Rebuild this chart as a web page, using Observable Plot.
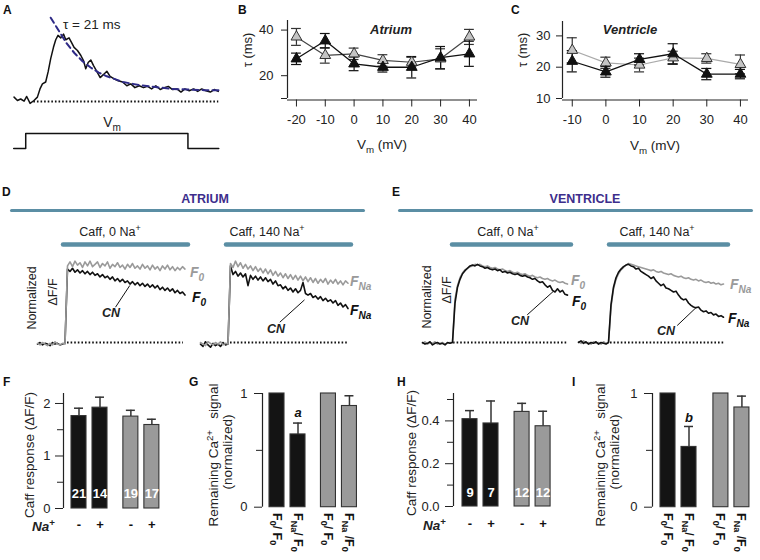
<!DOCTYPE html>
<html><head><meta charset="utf-8">
<script src="https://cdn.jsdelivr.net/npm/d3@7"></script>
<script src="https://cdn.jsdelivr.net/npm/@observablehq/plot@0.6"></script>
<style>
html,body{margin:0;padding:0;background:#fff;}
#root{position:relative;width:760px;height:560px;background:#fff;font-family:"Liberation Sans",Arial,Helvetica,sans-serif;color:#222;overflow:hidden;}
.lbl{position:absolute;white-space:nowrap;line-height:1;}
.lbl sub{font-size:72%;vertical-align:-0.35em;line-height:0;}
.lbl sup{font-size:72%;vertical-align:0.55em;line-height:0;}
.letter{font-weight:bold;font-size:12px;color:#111;}
</style></head>
<body><div id="root"></div>
<script>
// ================= DATA =================
// Panel A: example Ca transient (normalized ΔF/F) vs time (ms)
const aTimeMs = [-7.2,-5.1,-3.1,-1.0,0.6,2.7,5.1,7.2,8.8,10.3,12.3,13.8,15.4,17.1,18.5,19.9,21.6,23.3,24.7,26.7,28.2,29.8,31.9,34,35.6,37,38.5,40.1,41.8,43.8,45.9,48,50,52,54.5,57,59.7,62.3,64.8,67.3,70,72.6,75.1,77.6,80.2,82.9,85.4,87.9,90.5,93.2,95.7,98.1,100.8,103.5,106,108.5,111.1,113.8,116.2,118.7];
const aDeltaF = [0.07,0.016,0.04,0.005,0.08,-0.03,0.016,0.07,0.2,0.28,0.31,0.47,0.68,0.86,0.98,1.05,1.01,1.07,0.98,1.01,0.94,0.86,0.81,0.73,0.65,0.52,0.62,0.66,0.57,0.48,0.38,0.43,0.48,0.40,0.36,0.33,0.31,0.25,0.28,0.22,0.25,0.22,0.24,0.20,0.25,0.19,0.22,0.24,0.19,0.20,0.15,0.20,0.17,0.20,0.16,0.20,0.17,0.15,0.19,0.16];
const aFitTimeMs = [15.4,20,25,30,35,40,45,50,60,70,80,90,100,110,119];
const aFitValue = [1.33,1.14,0.93,0.77,0.64,0.54,0.46,0.40,0.31,0.26,0.23,0.20,0.19,0.18,0.18];
const aBaselineMs = [5,119];
const aVmTimeMs = [-7.4,0,0,100,100,119];
const aVmMv = [-70,-70,0,0,-70,-70];

// Panel B: decay tau (ms) in atrium
const vmAtrium = [-20,-10,0,10,20,30,40];
const tauAtriumGray = [37,28.9,29.6,26.7,25.9,27.4,37];
const tauAtriumGrayErr = [3.7,3.4,2.5,2.5,2.2,4.4,3.3];
const tauAtriumBlack = [27.4,35.3,25.2,23.7,23.7,27.9,29.6];
const tauAtriumBlackErr = [2.5,3.2,3.0,2.1,4.7,4.9,5.5];

// Panel C: decay tau (ms) in ventricle
const vmVentricle = [-10,0,10,20,30,40];
const tauVentGray = [25.4,21.4,20.7,23,22.8,20.9];
const tauVentGrayErr = [4,1.8,2.2,2.1,1.5,3];
const tauVentBlack = [21.9,18.5,22.5,24.3,17.8,17.8];
const tauVentBlackErr = [3.4,1.7,1.8,3.2,1.8,1.5];

// Panels D/E: caffeine responses, normalized ΔF/F, sampled every 0.25 s
const sampleStep = 0.25;
const dTraceStart = -2.8;
const eTraceStart = -3.0;
const dAtrium0NaGray = [-0.01,-0.03,0.00,-0.02,-0.04,-0.01,-0.03,0.01,-0.02,-0.03,-0.01,-0.02,
  0.97,1.02,0.96,1.03,0.98,1.01,0.95,1.02,0.97,1.03,0.96,0.99,1.02,0.95,1.00,0.97,1.02,0.94,0.99,0.96,1.01,0.95,0.98,0.93,0.99,0.95,1.00,0.94,0.97,0.93,0.99,0.94,0.97,0.92,0.98,0.93,0.96,0.91,0.97,0.93,0.98,0.92,0.96,0.91,0.95,0.92,0.96,0.93];
const dAtrium0NaBlack = [-0.02,0.00,-0.03,-0.01,-0.02,-0.04,0.00,-0.02,-0.01,-0.03,-0.02,-0.01,
  0.93,0.90,0.94,0.89,0.92,0.88,0.91,0.87,0.90,0.86,0.89,0.85,0.87,0.83,0.86,0.82,0.84,0.80,0.83,0.78,0.81,0.77,0.80,0.76,0.78,0.74,0.77,0.73,0.76,0.72,0.75,0.71,0.74,0.70,0.73,0.69,0.72,0.67,0.70,0.66,0.69,0.65,0.68,0.63,0.66,0.62,0.64,0.60];
const dAtrium140NaGray = [0.00,-0.02,-0.04,0.01,-0.01,-0.03,0.00,-0.02,0.01,-0.03,-0.01,-0.02,
  1.00,0.95,1.03,0.96,1.01,0.94,0.99,0.93,0.97,0.91,0.96,0.90,0.94,0.88,0.93,0.87,0.92,0.85,0.90,0.84,0.88,0.82,0.87,0.81,0.86,0.80,0.85,0.79,0.84,0.78,0.83,0.77,0.82,0.76,0.81,0.75,0.80,0.76,0.81,0.74,0.79,0.75,0.80,0.74,0.78,0.73,0.78,0.75];
const dAtrium140NaBlack = [-0.02,-0.05,0.01,-0.03,-0.06,-0.01,-0.04,-0.02,-0.05,0.00,-0.03,-0.02,
  0.97,0.86,0.90,0.84,0.88,0.83,0.87,0.72,0.85,0.80,0.84,0.79,0.83,0.78,0.82,0.77,0.80,0.74,0.78,0.72,0.73,0.68,0.71,0.66,0.69,0.64,0.68,0.63,0.66,0.76,0.62,0.60,0.62,0.57,0.59,0.55,0.58,0.53,0.56,0.52,0.54,0.50,0.53,0.47,0.50,0.45,0.48,0.43];
const eVent0NaGray = [-0.01,0.01,-0.02,0.00,-0.01,0.01,-0.02,-0.01,0.00,-0.02,-0.01,0.00,
  0.00,0.55,0.72,0.82,0.88,0.92,0.94,0.96,0.97,0.99,0.98,0.99,0.97,0.96,0.97,0.95,0.94,0.95,0.93,0.92,0.93,0.91,0.90,0.91,0.89,0.88,0.89,0.87,0.86,0.87,0.85,0.84,0.85,0.83,0.82,0.83,0.81,0.80,0.81,0.79,0.78,0.79,0.77,0.76,0.77,0.75,0.74];
const eVent0NaBlack = [0.00,-0.02,-0.01,0.01,-0.03,-0.01,0.00,-0.02,-0.01,-0.03,0.00,-0.01,
  0.00,0.50,0.70,0.80,0.87,0.91,0.94,0.97,0.98,0.97,0.99,0.97,0.96,0.94,0.95,0.93,0.92,0.93,0.91,0.92,0.89,0.90,0.88,0.89,0.87,0.86,0.87,0.85,0.84,0.85,0.83,0.82,0.80,0.81,0.78,0.76,0.77,0.73,0.70,0.72,0.66,0.64,0.68,0.64,0.66,0.61,0.60];
const eVent140NaGray = [0.01,-0.01,0.02,-0.01,0.00,-0.02,0.01,-0.01,0.00,-0.02,0.01,-0.01,
  0.00,0.45,0.68,0.80,0.87,0.92,0.95,0.98,1.00,0.99,0.98,0.97,0.96,0.95,0.94,0.93,0.92,0.91,0.92,0.90,0.89,0.90,0.88,0.87,0.86,0.87,0.85,0.84,0.83,0.84,0.82,0.81,0.82,0.80,0.79,0.80,0.78,0.79,0.77,0.76,0.77,0.75,0.76,0.74,0.75,0.73,0.74];
const eVent140NaBlack = [0.00,0.02,-0.01,0.01,-0.02,0.00,-0.01,0.01,-0.02,0.00,-0.01,-0.02,
  0.00,0.48,0.70,0.82,0.89,0.93,0.96,0.98,0.99,0.97,0.96,0.93,0.94,0.90,0.88,0.86,0.84,0.81,0.83,0.78,0.75,0.72,0.74,0.69,0.68,0.66,0.64,0.65,0.60,0.56,0.54,0.55,0.50,0.47,0.45,0.44,0.45,0.41,0.39,0.40,0.37,0.38,0.35,0.36,0.33,0.34,0.32];
// caffeine application windows and dotted baselines (s from caffeine onset)
const caffWindowD0 = [-0.2,12.3], caffWindowD140 = [-0.2,12.3];
const caffWindowE0 = [0,11.9], caffWindowE140 = [0.1,12];
const baselineD0 = [0.2,11.8], baselineD140 = [0.2,11.9];
const baselineE0 = [0.1,11.6], baselineE140 = [0.2,11.7];
// CN pointer annotations (from label end to trace) in (s, normalized) units
const cnD0 = {t1:5.0,v1:0.447,t2:6.43,v2:0.722};
const cnD140 = {t1:5.13,v1:0.257,t2:7.6,v2:0.54};
const cnE0 = {t1:7.47,v1:0.35,t2:10.07,v2:0.646};
const cnE140 = {t1:6.87,v1:0.215,t2:8.8,v2:0.447};

// Panels F-I: bar charts
const barGroups = ["black","black","gray","gray"];
const naSigns = ["-","+","-","+"];
const fAtriumResp = [1.76,1.92,1.75,1.59];
const fAtriumErr = [0.15,0.20,0.12,0.11];
const fAtriumN = ["21","14","19","17"];
const gAtriumRemain = [1,0.64,1,0.89];
const gAtriumErr = [0,0.10,0,0.09];
const gAtriumSig = ["","a","",""];
const hVentResp = [0.408,0.388,0.442,0.375];
const hVentErr = [0.04,0.105,0.04,0.07];
const hVentN = ["9","7","12","12"];
const iVentRemain = [1,0.53,1,0.877];
const iVentErr = [0,0.18,0,0.10];
const iVentSig = ["","b","",""];
const ratioLabels = ["F<sub>0</sub>/ F<sub>0</sub>","F<sub>Na</sub>/ F<sub>0</sub>","F<sub>0</sub>/ F<sub>0</sub>","F<sub>Na</sub> /F<sub>0</sub>"];

// ================= DRAWING =================
const TEAL = "#5b8ea4", PURPLE = "#3d2e8c", GRAYC = "#9a9a9a", BLACKC = "#111";
const FONT = '"Liberation Sans", Arial, Helvetica, sans-serif';
const root = document.getElementById("root");
const baseStyle = {fontFamily: FONT, fontSize: "12px", color: "#222", overflow: "visible", background: "transparent"};
const DOTS = {stroke: "#111", strokeWidth: 1.8, strokeDasharray: "1.6,2"};

function place(svg, left, top) {
  svg.style.position = "absolute"; svg.style.left = left + "px"; svg.style.top = top + "px";
  root.appendChild(svg); return svg;
}
function label(content, x, y, css = "") {
  const d = document.createElement("div");
  d.className = "lbl"; d.innerHTML = content;
  d.style.cssText += `left:${x}px;top:${y}px;` + css;
  root.appendChild(d); return d;
}
const C = "transform:translate(-50%,-50%);";
const R = "transform:translate(-50%,-50%) rotate(-90deg);";
const L = "transform:translate(0,-50%);";

// ---- Panel A ----
const aRows = aTimeMs.map((t, i) => ({t, v: aDeltaF[i]}));
const aFit = aFitTimeMs.map((t, i) => ({t, v: aFitValue[i]}));
place(Plot.plot({
  width: 219, height: 100, margin: 0, style: baseStyle,
  x: {domain: [-10, 125], axis: null}, y: {domain: [-0.206, 1.381], axis: null},
  marks: [
    Plot.ruleY([0], {x1: aBaselineMs[0], x2: aBaselineMs[1], ...DOTS}),
    Plot.line(aRows, {x: "t", y: "v", stroke: "#111", strokeWidth: 1.5}),
    Plot.line(aFit, {x: "t", y: "v", stroke: "#2e2a86", strokeWidth: 2, strokeDasharray: "6,4"})
  ]
}), 9, 14);
const aVm = aVmTimeMs.map((t, i) => ({t, v: aVmMv[i]}));
place(Plot.plot({
  width: 219, height: 28, margin: 0, style: baseStyle,
  x: {domain: [-10, 125], axis: null}, y: {domain: [-98, 32.7], axis: null},
  marks: [Plot.line(aVm, {x: "t", y: "v", stroke: "#111", strokeWidth: 1.5})]
}), 9, 126);

// ---- Panels B, C ----
function tauPlot(cfg) {
  const g = cfg.vm.map((x, i) => ({x, v: cfg.gray[i], e: cfg.grayErr[i]}));
  const b = cfg.vm.map((x, i) => ({x, v: cfg.black[i], e: cfg.blackErr[i]}));
  const errMarks = (rows, stroke) => [
    Plot.ruleX(rows, {x: "x", y1: d => d.v - d.e, y2: d => d.v + d.e, stroke, strokeWidth: 1.2}),
    Plot.ruleY(rows, {y: d => d.v + d.e, x1: d => d.x - cfg.cap, x2: d => d.x + cfg.cap, stroke, strokeWidth: 1.2}),
    Plot.ruleY(rows, {y: d => d.v - d.e, x1: d => d.x - cfg.cap, x2: d => d.x + cfg.cap, stroke, strokeWidth: 1.2})
  ];
  return Plot.plot({
    width: cfg.width, height: cfg.height,
    marginLeft: cfg.mL, marginRight: cfg.mR, marginTop: cfg.mT, marginBottom: cfg.mB,
    style: baseStyle,
    x: {domain: cfg.xDomain}, y: {domain: cfg.yDomain},
    marks: [
      Plot.ruleX([cfg.xDomain[0]], {stroke: "#222", strokeWidth: 1.2}),
      Plot.ruleY([cfg.yDomain[0]], {stroke: "#222", strokeWidth: 1.2, dy: 1.5}),
      Plot.axisY({ticks: cfg.yTicks, tickSize: 6, tickPadding: cfg.yPad, tickFormat: cfg.yFmt, label: null, fontSize: 13}),
      Plot.axisX({ticks: cfg.vm, tickSize: 7, tickPadding: 8, tickFormat: d => String(d), label: null, dy: 1.5, fontSize: 13}),
      ...errMarks(g, "#333"),
      Plot.line(g, {x: "x", y: "v", stroke: cfg.grayLine, strokeWidth: 1.2}),
      ...errMarks(b, "#111"),
      Plot.line(b, {x: "x", y: "v", stroke: "#111", strokeWidth: 1.3}),
      Plot.dot(g, {x: "x", y: "v", symbol: "triangle", r: 4, fill: "#c4c4c4", stroke: "#333", strokeWidth: 1}),
      Plot.dot(b, {x: "x", y: "v", symbol: "triangle", r: 4, fill: "#111", stroke: "#111", strokeWidth: 1})
    ]
  });
}
place(tauPlot({
  width: 260, height: 160, mL: 57, mR: 13, mT: 20, mB: 62,
  xDomain: [-23.1, 42.8], yDomain: [10, 44.2], yTicks: [10, 20, 40], yPad: 8,
  yFmt: d => d === 10 ? "" : String(d), cap: 1.7, grayLine: "#444",
  vm: vmAtrium, gray: tauAtriumGray, grayErr: tauAtriumGrayErr, black: tauAtriumBlack, blackErr: tauAtriumBlackErr
}), 230, 0);
place(tauPlot({
  width: 260, height: 160, mL: 62, mR: 12, mT: 21, mB: 62,
  xDomain: [-12.9, 42.4], yDomain: [10, 34.6], yTicks: [10, 20, 30], yPad: 6,
  yFmt: d => String(d), cap: 1.5, grayLine: "#aaa",
  vm: vmVentricle, gray: tauVentGray, grayErr: tauVentGrayErr, black: tauVentBlack, blackErr: tauVentBlackErr
}), 500, 0);

// ---- Panels D, E ----
function tracePlot(cfg) {
  const gray = cfg.gray.map((v, i) => ({t: cfg.tStart + i * sampleStep, v}));
  const black = cfg.black.map((v, i) => ({t: cfg.tStart + i * sampleStep, v}));
  const grayMark = Plot.line(gray, {x: "t", y: "v", stroke: GRAYC, strokeWidth: 1.6});
  const blackMark = Plot.line(black, {x: "t", y: "v", stroke: BLACKC, strokeWidth: 1.6});
  return Plot.plot({
    width: 160, height: 114, margin: 0, style: baseStyle,
    x: {domain: cfg.xDomain, axis: null}, y: {domain: [-0.101, 1.342], axis: null},
    marks: [
      Plot.ruleY([1.24], {x1: cfg.caff[0], x2: cfg.caff[1], stroke: TEAL, strokeWidth: 4.5, strokeLinecap: "round"}),
      Plot.ruleY([0], {x1: cfg.base[0], x2: cfg.base[1], ...DOTS}),
      ...(cfg.grayTop ? [blackMark, grayMark] : [grayMark, blackMark]),
      Plot.link([cfg.cn], {x1: "t1", y1: "v1", x2: "t2", y2: "v2", stroke: "#111", strokeWidth: 1})
    ]
  });
}
place(tracePlot({xDomain: [-3, 13], tStart: dTraceStart, gray: dAtrium0NaGray, black: dAtrium0NaBlack, caff: caffWindowD0, base: baselineD0, cn: cnD0, grayTop: true}), 35, 236);
place(tracePlot({xDomain: [-3, 13], tStart: dTraceStart, gray: dAtrium140NaGray, black: dAtrium140NaBlack, caff: caffWindowD140, base: baselineD140, cn: cnD140, grayTop: true}), 198, 236);
place(tracePlot({xDomain: [-3.2, 12.8], tStart: eTraceStart, gray: eVent0NaGray, black: eVent0NaBlack, caff: caffWindowE0, base: baselineE0, cn: cnE0, grayTop: false}), 420, 236);
place(tracePlot({xDomain: [-3.2, 12.8], tStart: eTraceStart, gray: eVent140NaGray, black: eVent140NaBlack, caff: caffWindowE140, base: baselineE140, cn: cnE140, grayTop: false}), 576, 236);

// ---- Panels F-I ----
const UNIT = 21;
function barPlot(cfg) {
  const rows = cfg.vals.map((v, i) => ({
    pos: (i < 2 ? 0 : cfg.groupOffset) + (i % 2), v, e: cfg.errs[i], group: barGroups[i],
    n: cfg.n ? cfg.n[i] : "", na: naSigns[i], sig: cfg.sig ? cfg.sig[i] : ""
  }));
  const d0 = -cfg.axisToFirst / UNIT;
  const d1 = d0 + (cfg.width - cfg.mL - cfg.mR) / UNIT;
  const hw = 7.5 / UNIT, cw = 4.5 / UNIT;
  const withErr = rows.filter(d => d.e > 0);
  const marks = [
    Plot.ruleX([d0], {y1: 0, y2: cfg.yDomain[1], stroke: "#222", strokeWidth: 1.2}),
    Plot.axisY({ticks: cfg.yTicks, tickSize: 8, tickPadding: cfg.yPad, tickFormat: cfg.yFmt, label: null, fontSize: 13}),
    Plot.axisY({ticks: cfg.minor, tickSize: 6, tickFormat: () => "", label: null}),
    Plot.ruleX(withErr, {x: "pos", y1: "v", y2: d => d.v + d.e, stroke: "#333", strokeWidth: 1.5}),
    Plot.ruleY(withErr, {y: d => d.v + d.e, x1: d => d.pos - cw, x2: d => d.pos + cw, stroke: "#333", strokeWidth: 1.5}),
    Plot.rect(rows, {x1: d => d.pos - hw, x2: d => d.pos + hw, y1: 0, y2: "v",
      fill: d => d.group === "black" ? "#141414" : "#9a9a9a", stroke: "#333", strokeWidth: 1.1})
  ];
  if (cfg.n) {
    marks.push(Plot.text(rows, {x: "pos", y: 0, dy: cfg.numDy, text: "n", fill: "white", fontWeight: "bold", fontSize: 13}));
    marks.push(Plot.text(rows, {x: "pos", y: 0, dy: cfg.naDy, text: "na", fill: "#111", fontWeight: "bold", fontSize: 13}));
  }
  if (cfg.sig) {
    marks.push(Plot.text(rows, {x: "pos", y: d => d.v + d.e, dy: cfg.sigDy, text: "sig", fill: "#111", fontWeight: "bold", fontStyle: "italic", fontSize: 13}));
  }
  const p = Plot.plot({
    width: cfg.width, height: cfg.height,
    marginLeft: cfg.mL, marginRight: cfg.mR, marginTop: cfg.mT, marginBottom: cfg.mB,
    style: baseStyle,
    x: {domain: [d0, d1], axis: null}, y: {domain: cfg.yDomain},
    marks
  });
  place(p, cfg.left, cfg.top);
  if (cfg.ratio) {
    const xs = p.scale("x");
    rows.forEach((d, i) => {
      const cx = cfg.left + xs.apply(d.pos);
      label(ratioLabels[i], cx, cfg.ratioTop, "font-weight:bold;font-size:12.5px;color:#111;transform-origin:0 0;transform:rotate(90deg) translate(0,-50%);");
    });
  }
  return p;
}
barPlot({left: 0, top: 380, width: 190, height: 150, mL: 63, mR: 20, mT: 13, mB: 22,
  axisToFirst: 15.5, groupOffset: 2.47, yDomain: [0, 2.19], yTicks: [0, 1, 2], minor: [0.5, 1.5], yPad: 5, yFmt: d => String(d),
  vals: fAtriumResp, errs: fAtriumErr, n: fAtriumN, numDy: -15, naDy: 16});
barPlot({left: 190, top: 380, width: 190, height: 150, mL: 72, mR: 10, mT: 13, mB: 23.3,
  axisToFirst: 14.5, groupOffset: 2.45, yDomain: [0, 1], yTicks: [0, 1], minor: [0.5], yPad: 7, yFmt: d => String(d),
  vals: gAtriumRemain, errs: gAtriumErr, sig: gAtriumSig, sigDy: -10, ratio: true, ratioTop: 513});
barPlot({left: 380, top: 380, width: 190, height: 150, mL: 73, mR: 10, mT: 13, mB: 24,
  axisToFirst: 16.5, groupOffset: 2.48, yDomain: [0, 0.528], yTicks: [0, 0.2, 0.4], minor: [0.1, 0.3, 0.5], yPad: 6, yFmt: d => d.toFixed(1),
  vals: hVentResp, errs: hVentErr, n: hVentN, numDy: -14, naDy: 17});
barPlot({left: 570, top: 380, width: 190, height: 150, mL: 82, mR: 4, mT: 13, mB: 23.3,
  axisToFirst: 15.5, groupOffset: 2.52, yDomain: [0, 1], yTicks: [0, 1], minor: [0.5], yPad: 7, yFmt: d => String(d),
  vals: iVentRemain, errs: iVentErr, sig: iVentSig, sigDy: -9, ratio: true, ratioTop: 513});

// ================= TEXT LABELS =================
[["A",3,4],["B",238,4],["C",511,4],["D",2,186],["E",392,186],["F",3,376],["G",189,376],["H",397,376],["I",572,376]]
  .forEach(([t, x, y]) => { label(t, x, y, "").className += " letter"; });

label("τ = 21 ms", 63, 25, L + "font-size:13.5px;");
label("V<sub>m</sub>", 112, 122, C + "font-size:14px;");

label("τ (ms)", 247, 50, R + "font-size:13px;");
label("Atrium", 391, 29, C + "font-size:13px;font-weight:bold;font-style:italic;");
label("V<sub>m</sub> (mV)", 382, 145, C + "font-size:13.5px;");
label("τ (ms)", 522, 50, R + "font-size:13px;");
label("Ventricle", 630, 29, C + "font-size:13px;font-weight:bold;font-style:italic;");
label("V<sub>m</sub> (mV)", 655, 146, C + "font-size:13.5px;");

label("ATRIUM", 205, 199, C + `font-size:12.5px;font-weight:bold;color:${PURPLE};`);
label("VENTRICLE", 585, 199, C + `font-size:12.5px;font-weight:bold;color:${PURPLE};`);
label("", 10, 208.5, `width:355px;height:3px;background:${TEAL};border-radius:1.5px;`);
label("", 398, 208.5, `width:355px;height:3px;background:${TEAL};border-radius:1.5px;`);
label("Caff, 0 Na<sup>+</sup>", 110, 232, C + "font-size:12.5px;");
label("Caff, 140 Na<sup>+</sup>", 267, 232, C + "font-size:12.5px;");
label("Caff, 0 Na<sup>+</sup>", 508, 232, C + "font-size:12.5px;");
label("Caff, 140 Na<sup>+</sup>", 657, 232, C + "font-size:12.5px;");
label("Normalized", 32, 298, R + "font-size:12.5px;");
label("ΔF/F", 53, 292, R + "font-size:12.5px;");
label("Normalized", 427, 297, R + "font-size:12.5px;");
label("ΔF/F", 447, 290, R + "font-size:12.5px;");

const fl = "font-size:14px;font-weight:bold;font-style:italic;";
label("F<sub>0</sub>", 190, 272, L + fl + `color:${GRAYC};`);
label("F<sub>0</sub>", 192, 297, L + fl + "color:#111;");
label("CN", 111, 313, C + "font-size:12.5px;font-weight:bold;font-style:italic;");
label("F<sub>Na</sub>", 350, 281, L + fl + `color:${GRAYC};`);
label("F<sub>Na</sub>", 350, 310, L + fl + "color:#111;");
label("CN", 276, 329, C + "font-size:12.5px;font-weight:bold;font-style:italic;");
label("F<sub>0</sub>", 571, 280, L + fl + `color:${GRAYC};`);
label("F<sub>0</sub>", 572, 301, L + fl + "color:#111;");
label("CN", 520, 321, C + "font-size:12.5px;font-weight:bold;font-style:italic;");
label("F<sub>Na</sub>", 730, 284, L + fl + `color:${GRAYC};`);
label("F<sub>Na</sub>", 728, 318, L + fl + "color:#111;");
label("CN", 666, 331, C + "font-size:12.5px;font-weight:bold;font-style:italic;");

label("Caff response (ΔF/F)", 30, 455, R + "font-size:13.5px;");
label("Caff response (ΔF/F)", 412, 453, R + "font-size:13.5px;");
label("<b><i>Na</i></b><sup><b>+</b></sup>", 32, 527, L + "font-size:13.5px;");
label("<b><i>Na</i></b><sup><b>+</b></sup>", 423, 526, L + "font-size:13.5px;");
label("Remaining Ca<sup>2+</sup>&nbsp;&nbsp;&nbsp;signal", 214, 455, R + "font-size:13.5px;");
label("(normalized)", 228, 452, R + "font-size:13.5px;");
label("Remaining Ca<sup>2+</sup>&nbsp;&nbsp;&nbsp;signal", 601, 455, R + "font-size:13.5px;");
label("(normalized)", 615, 452, R + "font-size:13.5px;");
</script>
</body></html>
